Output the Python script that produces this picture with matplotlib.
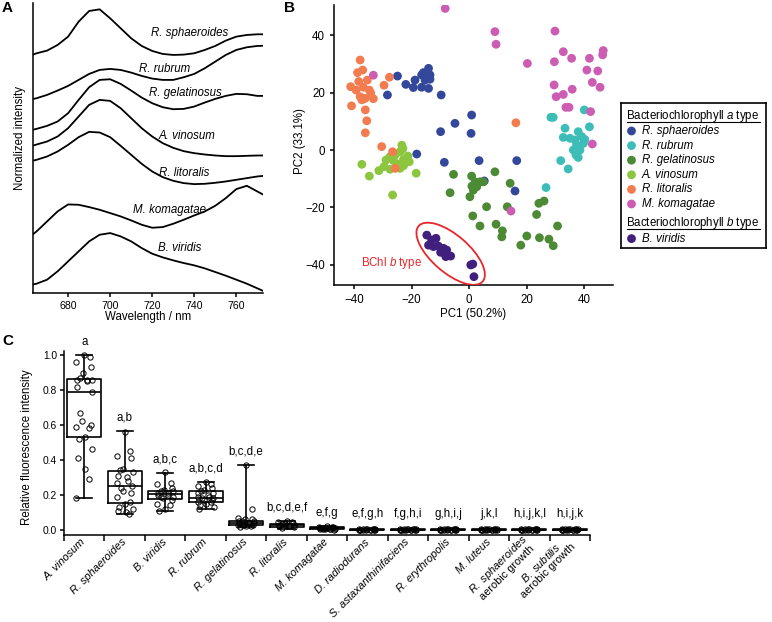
import matplotlib
matplotlib.use("Agg")
import matplotlib.pyplot as plt
from matplotlib.patches import Ellipse
import numpy as np

plt.rcParams['font.family'] = ['Liberation Sans', 'DejaVu Sans']
plt.rcParams['mathtext.fontset'] = 'custom'
plt.rcParams['mathtext.rm'] = 'Liberation Sans'
plt.rcParams['mathtext.it'] = 'Liberation Sans:italic'
plt.rcParams['axes.linewidth'] = 1.1

# ---- panel A : fluorescence spectra (offset, normalized) ----
wl = [663, 665, 670, 675, 680, 685, 690, 695, 700, 705, 710, 715, 720,
      725, 730, 735, 740, 745, 750, 755, 760, 765, 770, 775]
spec_sph = [7.15, 7.20, 7.28, 7.45, 7.70, 8.15, 8.47, 8.52, 8.25, 7.95, 7.65, 7.42,
            7.27, 7.18, 7.15, 7.16, 7.20, 7.30, 7.42, 7.58, 7.70, 7.75, 7.77, 7.77]
spec_rub = [5.82, 5.85, 5.95, 6.08, 6.22, 6.40, 6.58, 6.70, 6.73, 6.70, 6.62, 6.52,
            6.44, 6.40, 6.40, 6.48, 6.58, 6.75, 6.95, 7.15, 7.30, 7.38, 7.42, 7.43]
spec_gel = [4.90, 4.93, 5.02, 5.15, 5.40, 5.80, 6.18, 6.40, 6.42, 6.28, 6.08, 5.87,
            5.70, 5.58, 5.52, 5.53, 5.60, 5.72, 5.83, 5.92, 5.98, 5.97, 5.92, 5.92]
spec_vin = [4.42, 4.46, 4.55, 4.70, 4.95, 5.30, 5.65, 5.80, 5.77, 5.55, 5.25, 4.95,
            4.70, 4.50, 4.36, 4.26, 4.20, 4.16, 4.13, 4.11, 4.11, 4.12, 4.13, 4.13]
spec_lit = [3.97, 4.00, 4.10, 4.25, 4.45, 4.68, 4.84, 4.82, 4.68, 4.42, 4.15, 3.88,
            3.65, 3.48, 3.37, 3.30, 3.27, 3.28, 3.31, 3.35, 3.40, 3.45, 3.50, 3.53]
spec_kom = [1.75, 1.85, 2.15, 2.45, 2.66, 2.65, 2.58, 2.50, 2.40, 2.30, 2.18, 2.05,
            1.96, 1.98, 2.08, 2.20, 2.33, 2.45, 2.62, 2.85, 3.12, 3.22, 3.05, 2.88]
spec_vir = [0.25, 0.28, 0.40, 0.65, 0.95, 1.25, 1.55, 1.75, 1.80, 1.70, 1.55, 1.35,
            1.18, 1.07, 0.98, 0.90, 0.83, 0.74, 0.63, 0.52, 0.40, 0.28, 0.14, 0.00]
spec_names = ["R. sphaeroides", "R. rubrum", "R. gelatinosus", "A. vinosum",
              "R. litoralis", "M. komagatae", "B. viridis"]
spec_label_pos = [(738, 7.80), (726, 6.72), (735.7, 6.00), (736.5, 4.72),
                  (735, 3.60), (728, 2.50), (733, 1.35)]

# ---- panel B : PCA scores ----
sph_x = [-24.9, -22.0, -28.4, -19.4, -18.8, -16.5, -14.1, -15.9, -13.6, -15.3, -13.6,
         -16.5, -14.1, -9.7, 0.9, -4.9, -9.9, 0.7, -18.2, -8.6, 3.5, 16.6, 5.3, 16.0]
sph_y = [25.8, 22.9, 19.2, 21.8, 24.4, 26.2, 28.5, 27.0, 26.2, 24.4, 24.7,
         21.9, 21.5, 19.2, 12.2, 9.3, 6.4, 5.8, -1.4, -4.3, -3.7, -3.7, -10.8, -14.3]
rub_x = [28.5, 29.3, 40.1, 33.4, 41.9, 38.0, 32.8, 35.1, 36.9, 39.2, 40.3, 37.4, 39.8,
         36.3, 38.6, 37.2, 38.0, 31.9, 34.5, 26.8]
rub_y = [11.4, 11.4, 14.0, 7.6, 8.1, 6.4, 4.4, 4.1, 3.5, 4.7, 3.7, 1.7, 2.3,
         0.0, 0.0, -1.7, -2.6, -3.7, -6.6, -13.1]
gel_x = [-5.4, -6.6, 0.9, 2.7, 1.5, 3.8, 5.0, 9.0, 0.3, 1.3, 3.8, 6.1, 9.4, 11.6, 11.4,
         13.3, 14.3, 18.0, 20.1, 23.5, 24.3, 26.1, 24.5, 27.8, 29.3, 30.8, 1.0, 2.1]
gel_y = [-8.5, -14.9, -9.1, -12.8, -14.0, -11.1, -11.1, -7.6, -16.3, -23.0, -26.5,
         -19.8, -25.9, -28.2, -30.3, -19.8, -11.6, -33.2, -30.0, -22.5, -18.6, -17.8,
         -30.6, -31.1, -33.4, -26.5, -12.6, -11.1]
vin_x = [-23.4, -24.0, -25.7, -27.5, -28.9, -26.3, -22.8, -21.3, -20.8, -24.6, -22.8,
         -29.6, -31.4, -27.5, -24.0, -37.3, -34.7, -18.4, -26.6, -23.0]
vin_y = [1.7, -0.6, -1.7, -2.3, -3.5, -3.7, -3.3, -2.1, -4.1, -4.9, -5.5,
         -5.8, -7.2, -6.7, -6.4, -5.0, -9.1, -8.1, -15.7, 0.5]
lit_x = [-37.9, -38.8, -37.0, -35.4, -38.4, -41.2, -39.3, -36.8, -34.7, -37.9, -36.2,
         -34.2, -33.3, -37.3, -40.9, -36.1, -35.6, -36.1, -29.6, -27.7, -30.4, -26.6,
         -25.7, 16.3]
lit_y = [31.4, 27.0, 27.9, 24.4, 23.9, 22.1, 20.9, 21.9, 20.9, 18.6, 18.0,
         19.8, 17.9, 17.5, 15.4, 14.0, 10.2, 6.0, 22.6, 25.4, 1.2, -0.6, -6.4, 9.5]
kom_x = [-8.3, -33.3, 9.0, 9.4, 29.9, 32.8, 29.7, 35.7, 41.9, 46.7, 46.5, 20.3, 41.0,
         44.8, 42.9, 45.6, 29.6, 32.8, 35.9, 30.3, 33.7, 34.8, 42.3, 42.9, 14.6]
kom_y = [49.4, 26.1, 41.3, 36.9, 41.5, 34.3, 30.8, 32.0, 32.0, 34.7, 33.2, 30.2, 27.9,
         27.6, 23.6, 21.9, 22.7, 19.4, 21.2, 18.6, 14.9, 14.9, 13.4, 2.1, -21.3]
vir_x = [-14.7, -13.0, -11.5, -14.1, -12.4, -10.7, -8.9, -9.9, -7.8, -6.4, -8.1,
         0.6, 1.3, 1.7]
vir_y = [-29.7, -31.4, -30.8, -33.2, -33.7, -33.5, -34.3, -35.7, -34.9, -37.0, -37.2,
         -40.1, -39.8, -44.2]

pca_groups = [
    ("R. sphaeroides", sph_x, sph_y, "#34489b"),
    ("R. rubrum", rub_x, rub_y, "#3dbdb8"),
    ("R. gelatinosus", gel_x, gel_y, "#4c8a35"),
    ("A. vinosum", vin_x, vin_y, "#8cc63f"),
    ("R. litoralis", lit_x, lit_y, "#f27c4f"),
    ("M. komagatae", kom_x, kom_y, "#cc5db3"),
    ("B. viridis", vir_x, vir_y, "#40207c"),
]

# ---- panel C : relative fluorescence intensity ----
cats = ["A. vinosum", "R. sphaeroides", "B. viridis", "R. rubrum", "R. gelatinosus",
        "R. litoralis", "M. komagatae", "D. radiodurans", "S. astaxanthinifaciens",
        "R. erythropolis", "M. luteus", "R. sphaeroides|aerobic growth",
        "B. subtilis|aerobic growth"]
sig_letters = ["a", "a,b", "a,b,c", "a,b,c,d", "b,c,d,e", "b,c,d,e,f", "e,f,g",
               "e,f,g,h", "f,g,h,i", "g,h,i,j", "j,k,l", "h,i,j,k,l", "h,i,j,k"]
box_lo = [0.18, 0.09, 0.11, 0.12, 0.015, 0.008, 0.002, 0.0, 0.0, 0.0, 0.0, 0.0, 0.0]
box_q1 = [0.53, 0.155, 0.178, 0.159, 0.028, 0.019, 0.006, 0.001, 0.001, 0.001, 0.001, 0.001, 0.001]
box_med = [0.79, 0.25, 0.203, 0.184, 0.040, 0.026, 0.010, 0.002, 0.002, 0.002, 0.002, 0.002, 0.002]
box_q3 = [0.865, 0.338, 0.224, 0.220, 0.052, 0.034, 0.014, 0.003, 0.003, 0.003, 0.003, 0.003, 0.003]
box_hi = [1.0, 0.565, 0.327, 0.275, 0.371, 0.052, 0.022, 0.006, 0.006, 0.006, 0.005, 0.006, 0.006]

pts_vin = [1.0, 0.99, 0.96, 0.93, 0.90, 0.87, 0.86, 0.86, 0.85, 0.86, 0.82, 0.79,
           0.67, 0.62, 0.60, 0.59, 0.58, 0.53, 0.52, 0.46, 0.41, 0.35, 0.29, 0.18]
pts_sph = [0.56, 0.45, 0.42, 0.41, 0.35, 0.34, 0.33, 0.31, 0.30, 0.28, 0.27, 0.25,
           0.24, 0.22, 0.21, 0.19, 0.16, 0.15, 0.13, 0.12, 0.11, 0.10, 0.09]
pts_vir = [0.33, 0.27, 0.26, 0.24, 0.23, 0.22, 0.22, 0.21, 0.21, 0.20, 0.20, 0.19,
           0.19, 0.18, 0.17, 0.15, 0.14, 0.12, 0.11]
pts_rub = [0.275, 0.26, 0.25, 0.24, 0.23, 0.22, 0.21, 0.21, 0.20, 0.19, 0.19, 0.18,
           0.18, 0.17, 0.17, 0.16, 0.16, 0.15, 0.14, 0.13, 0.12]
pts_gel = [0.37, 0.12, 0.07, 0.06, 0.06, 0.05, 0.05, 0.05, 0.04, 0.04, 0.04, 0.04,
           0.03, 0.03, 0.03, 0.03, 0.02, 0.02, 0.015]
pts_lit = [0.05, 0.048, 0.045, 0.04, 0.04, 0.035, 0.03, 0.03, 0.025, 0.02, 0.02,
           0.015, 0.01]
pts_kom = [0.022, 0.018, 0.015, 0.014, 0.012, 0.011, 0.010, 0.009, 0.008, 0.007,
           0.006, 0.005, 0.004, 0.003, 0.002]
pts_low = [0.006, 0.005, 0.004, 0.004, 0.003, 0.003, 0.003, 0.002, 0.002, 0.002,
           0.002, 0.001, 0.001, 0.001, 0.0, 0.0]
cat_points = [pts_vin, pts_sph, pts_vir, pts_rub, pts_gel, pts_lit, pts_kom,
              pts_low, pts_low, pts_low, pts_low, pts_low, pts_low]

fig = plt.figure(figsize=(7.72, 6.22), dpi=100)
W, H = 772.0, 622.0


def px_axes(x0, y0, x1, y1):
    return fig.add_axes([x0 / W, 1 - y1 / H, (x1 - x0) / W, (y1 - y0) / H])


# ================= A =================
axA = px_axes(33, 3, 263, 293)
for yv in [spec_sph, spec_rub, spec_gel, spec_vin, spec_lit, spec_kom, spec_vir]:
    axA.plot(wl, yv, color="black", lw=1.3, solid_joinstyle="round")
for name, (lx, ly) in zip(spec_names, spec_label_pos):
    axA.text(lx, ly, name, fontsize=8.3, style="italic", ha="center", va="center")
axA.set_xlim(663.3, 772.7)
axA.set_ylim(0, 8.71)
axA.spines[["top", "right"]].set_visible(False)
axA.set_yticks([])
axA.set_xticks([680, 700, 720, 740, 760])
axA.tick_params(axis="x", labelsize=7.6, length=3, width=1.1, pad=3)
axA.set_xlabel("Wavelength / nm", fontsize=8.3)
axA.xaxis.set_label_coords(0.5, -0.062)
axA.set_ylabel("Normalized intensity", fontsize=8.3)
axA.yaxis.set_label_coords(-0.03, 0.534)

# ================= B =================
axB = px_axes(334, 5, 613, 285)
for name, xs, ys, col in pca_groups:
    axB.scatter(xs, ys, s=40, color=col, edgecolors="none", zorder=3)
axB.add_patch(Ellipse((-6.4, -36.2), width=29.5, height=13.0, angle=-41,
                      fill=False, edgecolor="#e8262b", lw=1.3, zorder=4))
axB.text(-16.3, -39.4, r"BChl $\mathit{b}$ type", color="#e8262b", fontsize=8.3,
         ha="right", va="center")
axB.set_xlim(-47, 50.1)
axB.set_ylim(-47.1, 50.6)
axB.spines[["top", "right"]].set_visible(False)
axB.set_xticks([-40, -20, 0, 20, 40])
axB.set_yticks([-40, -20, 0, 20, 40])
axB.tick_params(labelsize=8.3, length=3, width=1.1, pad=3.5)
axB.set_xlabel("PC1 (50.2%)", fontsize=8.3)
axB.xaxis.set_label_coords(0.5, -0.083)
axB.set_ylabel("PC2 (33.1%)", fontsize=8.3)
axB.yaxis.set_label_coords(-0.1, 0.514)

# legend drawn in pixel-like coordinates
lax = px_axes(621, 103, 766, 248)
lax.set_xlim(621, 766)
lax.set_ylim(248, 103)
lax.set_xticks([])
lax.set_yticks([])
for sp in lax.spines.values():
    sp.set_linewidth(1.2)
titles = [(r"Bacteriochlorophyll $\mathit{a}$ type", 116.5),
          (r"Bacteriochlorophyll $\mathit{b}$ type", 223.3)]
rows = [131.0, 145.6, 160.2, 174.8, 189.4, 204.0, 238.6]
title_texts = []
for txt, ty in titles:
    title_texts.append((lax.text(626.5, ty, txt, fontsize=8.3, ha="left", va="center"), ty))
for (name, xs, ys, col), ry in zip(pca_groups, rows):
    lax.scatter([631.5], [ry], s=40, color=col, edgecolors="none")
    lax.text(641.5, ry, name, fontsize=8.3, style="italic", ha="left", va="center")
fig.canvas.draw()
rend = fig.canvas.get_renderer()
for t, ty in title_texts:
    bb = t.get_window_extent(rend)
    x0 = lax.transData.inverted().transform((bb.x0, 0))[0]
    x1 = lax.transData.inverted().transform((bb.x1, 0))[0]
    lax.plot([x0, x1], [ty + 5.2, ty + 5.2], color="black", lw=0.8)

# ================= C =================
axC = px_axes(64, 351, 590, 535)
pos = np.arange(len(cats))
stats = []
for i in range(len(cats)):
    stats.append(dict(whislo=box_lo[i], q1=box_q1[i], med=box_med[i],
                      q3=box_q3[i], whishi=box_hi[i]))
lp = dict(color="black", lw=1.2)
axC.bxp(stats, positions=pos, widths=0.84, capwidths=0.4, showfliers=False,
        boxprops=lp, whiskerprops=lp, capprops=lp, medianprops=lp)
for i, vals in enumerate(cat_points):
    n = len(vals)
    dx = 0.2 * np.sin(np.arange(n) * 2.39996)
    axC.plot(pos[i] + dx, vals, "o", ms=3.8, mfc="none", mec="black", mew=0.7,
             zorder=3)
for i, lab in enumerate(sig_letters):
    axC.text(pos[i], max(box_hi[i], 0.018) + 0.058, lab, fontsize=8.3,
             ha="center", va="baseline")
axC.set_xlim(-0.5, len(cats) - 0.5)
axC.set_ylim(-0.029, 1.023)
axC.spines[["top", "right"]].set_visible(False)
axC.set_yticks([0.0, 0.2, 0.4, 0.6, 0.8, 1.0])
axC.set_yticklabels(["0.0", "0.2", "0.4", "0.6", "0.8", "1.0"])
axC.tick_params(axis="y", labelsize=7.4, length=3, width=1.1, pad=2)
axC.set_xticks(np.arange(len(cats) + 1) - 0.5)
axC.set_xticklabels([])
axC.tick_params(axis="x", which="major", length=4, width=1.1)
labels = []
for c in cats:
    if "|" in c:
        sp_name, extra = c.split("|")
        labels.append(r"$\mathit{" + sp_name.replace(" ", r"\ ") + "}$\n" + extra)
    else:
        labels.append(c)
axC.set_xticks(pos, minor=True)
axC.set_xticklabels(labels, minor=True, rotation=45, ha="right", va="center",
                    rotation_mode="anchor", fontsize=7.9, multialignment="center",
                    linespacing=1.05)
for i, t in enumerate(axC.get_xticklabels(minor=True)):
    if "|" not in cats[i]:
        t.set_style("italic")
axC.tick_params(axis="x", which="minor", length=0, pad=4)
axC.set_ylabel("Relative fluorescence intensity", fontsize=8.3)
axC.yaxis.set_label_coords(-0.058, 0.478)

# panel letters
fig.text(2 / W, 1 - 1 / H, "A", fontsize=11, weight="bold", va="top", ha="left")
fig.text(284 / W, 1 - 1 / H, "B", fontsize=11, weight="bold", va="top", ha="left")
fig.text(2 / W, 1 - 334 / H, "C", fontsize=11, weight="bold", va="top", ha="left")

fig.savefig("out.png", dpi=100)
